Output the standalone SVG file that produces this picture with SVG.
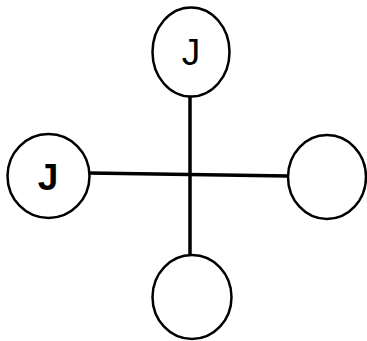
<svg xmlns="http://www.w3.org/2000/svg" width="367" height="341" viewBox="0 0 367 341">
<style>
.n{fill:#fff;stroke:#000;stroke-width:2.5}
.c{stroke:#000;stroke-width:3.5;fill:none}
.t{font-family:"Liberation Sans",Arial,sans-serif;font-size:37px;fill:#000;text-anchor:middle}
</style>
<rect width="367" height="341" fill="#fff"/>
<g id="connectors">
<line class="c" x1="190" y1="97" x2="190" y2="255"/>
<line class="c" x1="89" y1="173" x2="288" y2="176"/>
</g>
<g id="top"><ellipse class="n" cx="191" cy="52" rx="38.5" ry="44.5"/><text class="t" x="191" y="64.5">J</text></g>
<g id="left"><ellipse class="n" cx="48.5" cy="176" rx="41" ry="42"/><text class="t" x="48" y="189.5" font-weight="bold">J</text></g>
<g id="right"><ellipse class="n" cx="327" cy="177" rx="39" ry="42"/></g>
<g id="bottom"><ellipse class="n" cx="192" cy="297" rx="39.5" ry="42"/></g>
</svg>
